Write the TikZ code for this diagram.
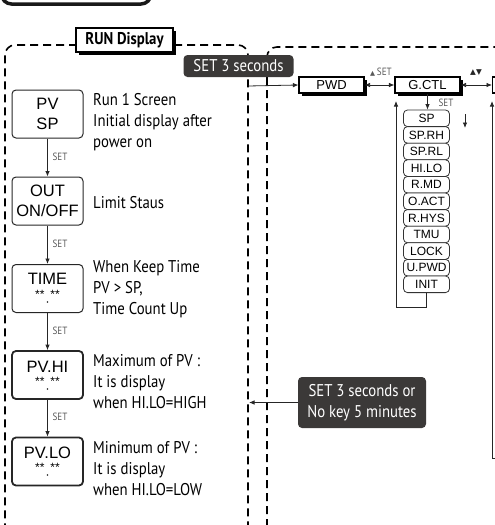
\documentclass[tikz,border=0pt]{standalone}
\usepackage{fontspec}
\setmainfont{PT Sans}
\newfontfamily\narrowfont[FakeStretch=0.87]{PT Sans}
\newfontfamily\boxfont{Liberation Sans}
\newfontfamily\symfont{DejaVu Sans}
\usetikzlibrary{arrows.meta,shadows}
\definecolor{darklab}{HTML}{3B3938}
\begin{document}
\begin{tikzpicture}[x=1pt,y=-1pt,
  tip/.tip={Latex[length=5.5pt,width=4.5pt]},
  ar/.style={draw=black!85, line width=0.8pt, -tip},
  dbl/.style={draw=black!85, line width=0.8pt, tip-tip},
  regionline/.style={line width=1.6pt, dash pattern=on 8pt off 5pt, rounded corners=10pt},
  dispbox/.style={draw=black!85, rounded corners=4pt, line width=1pt, minimum width=71pt, minimum height=48pt, inner sep=0pt, align=center, font=\boxfont\fontsize{16.5}{19.5}\selectfont},
  boxtxt/.style={inner sep=0pt, font=\boxfont\fontsize{16.5}{16.5}\selectfont},
  stars/.style={inner sep=0pt, font=\boxfont\fontsize{12}{12}\selectfont},
  dotm/.style={circle, fill=black!85, inner sep=0pt, minimum size=1.6pt},
  desc/.style={anchor=west, align=left, inner sep=0pt, font=\narrowfont\fontsize{17}{21}\selectfont},
  setl/.style={inner sep=0pt, text=black!65, font=\narrowfont\fontsize{10.5}{10.5}\selectfont},
  dark/.style={fill=darklab, rounded corners=4pt, text=white, inner sep=0pt, align=center, font=\narrowfont\fontsize{17}{21}\selectfont},
  shbox/.style={draw=black, line width=1.1pt, fill=white, minimum width=65pt, minimum height=16pt, inner sep=0pt, font=\boxfont\fontsize{13}{13}\selectfont, drop shadow={shadow xshift=3pt, shadow yshift=-3pt, fill=black, opacity=1}},
  stk/.style={draw=black!80, line width=0.8pt, rounded corners=4pt, minimum width=46pt, minimum height=16.6pt, inner sep=0pt, fill=white, font=\boxfont\fontsize{12}{12}\selectfont}
]
\useasboundingbox (0,0) rectangle (495,525);
% top-left partial box
\draw[line width=3.5pt, rounded corners=10pt, black!90] (1.5,-20) -- (1.5,4) -- (151,4) -- (151,-20);
% dashed regions
\draw[regionline] (77,45) -- (5,45) -- (5,540);
\draw[regionline] (174,45) -- (248,45) -- (248,540);
\draw[regionline] (267,540) -- (267,47) -- (510,47);
% RUN display title
\node[shbox, minimum width=97pt, minimum height=24pt, font=\narrowfont\bfseries\fontsize{17}{17}\selectfont] (run) at (124.5,40) {RUN Display};
% left column boxes
\node[dispbox] (pvsp) at (47.5,114) {PV\\SP};
\node[dispbox] (out) at (47.5,201) {OUT\\ON/OFF};
\node[dispbox] (time) at (47.5,288.5) {};
\node[boxtxt] (timet) at (47.5,279) {TIME};
\node[stars] (times) at (47.5,294) {**\hspace{6pt}**};
\node[dotm] (timed) at (47.5,302) {};
\node[dispbox, line width=1.8pt] (pvhi) at (47.5,375) {};
\node[boxtxt] (pvhit) at (47.5,367) {PV.HI};
\node[stars] (pvhis) at (47.5,381) {**\hspace{6pt}**};
\node[dotm] (pvhid) at (47.5,389) {};
\node[dispbox, line width=1.8pt] (pvlo) at (47.5,461.5) {};
\node[boxtxt] (pvlot) at (47.5,453) {PV.LO};
\node[stars] (pvlos) at (47.5,467) {**\hspace{6pt}**};
\node[dotm] (pvlod) at (47.5,475) {};
% left arrows
\draw[ar] (pvsp.south) -- (out.north);
\draw[ar] (out.south) -- (time.north);
\draw[ar] (time.south) -- (pvhi.north);
\draw[ar] (pvhi.south) -- (pvlo.north);
\node[setl] (l1) at (60,157) {SET};
\node[setl] (l2) at (60,244) {SET};
\node[setl] (l3) at (60,331) {SET};
\node[setl] (l4) at (60,417) {SET};
% descriptions
\node[desc] (d1) at (93,122) {Run 1 Screen\\Initial display after\\power on};
\node[desc] (d2) at (93,203) {Limit Staus};
\node[desc] (d3) at (93,289) {When Keep Time\\PV > SP,\\Time Count Up};
\node[desc] (d4) at (93,381.5) {Maximum of PV :\\It is display\\when HI.LO=HIGH};
\node[desc] (d5) at (93,468.5) {Minimum of PV :\\It is display\\when HI.LO=LOW};
% dark labels
\node[dark, minimum width=110pt, minimum height=22pt] (set3) at (238.5,66) {SET 3 seconds};
\node[dark, minimum width=128pt, minimum height=51pt] (nokey) at (362,402.5) {SET 3 seconds or\\No key 5 minutes};
% top row
\node[shbox] (pwd) at (331.5,85) {PWD};
\node[shbox] (gctl) at (427.5,85) {G.CTL};
\node[shbox, anchor=west] (nxt) at (492,85) {};
\coordinate (c248) at (248,86);
\draw[ar] (c248) -- (pwd.west);
\draw[dbl] (pwd.east) -- (gctl.west);
\draw[dbl] (gctl.east) -- (nxt.west);
\node[setl] (l5) at (381,72) {{\symfont\fontsize{6.5}{6.5}\selectfont ▲}\,SET};
\node[setl, text=black!85] (l6) at (476,73) {\symfont\fontsize{7.5}{7.5}\selectfont ▲▼};
% stack
\foreach \t [count=\i] in {SP,SP.RH,SP.RL,HI.LO,R.MD,O.ACT,R.HYS,TMU,LOCK,U.PWD,INIT}
  \node[stk] (s\i) at (426.5,{110+16.6*(\i-0.5)}) {\t};
\draw[ar] (gctl.south) -- (gctl.south |- s1.north);
\node[setl] (l7) at (446,103) {SET};
\coordinate (da1) at (465,114);
\coordinate (da2) at (465,128);
\draw[ar] (da1) -- (da2);
\coordinate (lb) at (396,307);
\coordinate (lt) at (396,101);
\draw[ar] (s11.south) |- (lb) -- (lt);
\coordinate (rr) at (510,458);
\coordinate (rb) at (492,458);
\coordinate (rt) at (492,101);
\draw[ar] (rr) -- (rb) -- (rt);
% return arrow
\coordinate (c248b) at (249,402.5);
\draw[ar] (nokey.west) -- (c248b);
\end{tikzpicture}
\end{document}
